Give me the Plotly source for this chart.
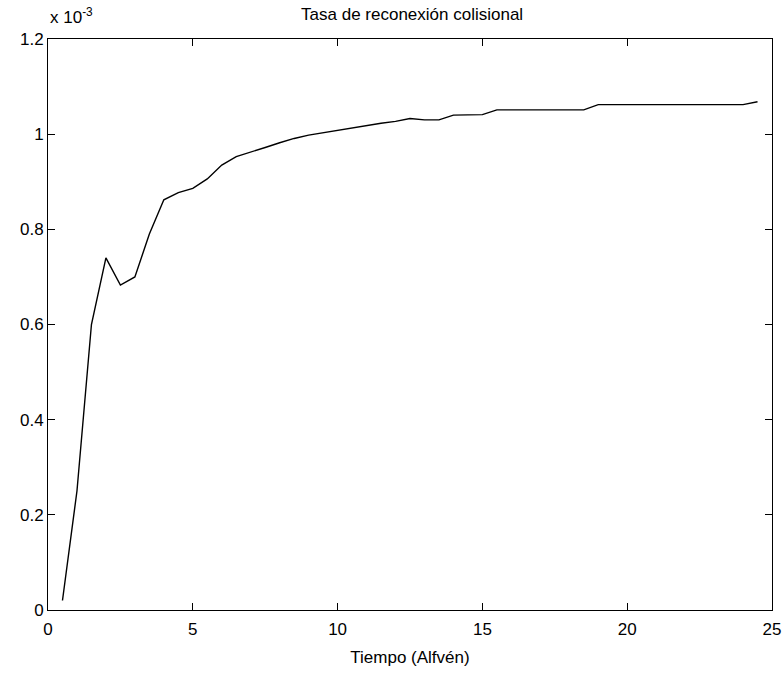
import plotly.graph_objects as go

# Time in Alfvén units and reconnection rate (in units of 1e-3)
tiempo = [0.5, 1.0, 1.5, 2.0, 2.5, 3.0, 3.5, 4.0, 4.5, 5.0,
          5.5, 6.0, 6.5, 7.0, 7.5, 8.0, 8.5, 9.0, 9.5, 10.0,
          10.5, 11.0, 11.5, 12.0, 12.5, 13.0, 13.5, 14.0, 14.5, 15.0,
          15.5, 16.0, 16.5, 17.0, 17.5, 18.0, 18.5, 19.0, 19.5, 20.0,
          20.5, 21.0, 21.5, 22.0, 22.5, 23.0, 23.5, 24.0, 24.5]
tasa = [0.020, 0.250, 0.600, 0.740, 0.683, 0.700, 0.790, 0.862, 0.877, 0.886,
        0.906, 0.935, 0.953, 0.962, 0.972, 0.982, 0.991, 0.998, 1.003, 1.008,
        1.013, 1.019, 1.023, 1.027, 1.033, 1.030, 1.030, 1.040, 1.040, 1.041,
        1.051, 1.051, 1.051, 1.051, 1.051, 1.051, 1.051, 1.062, 1.062, 1.062,
        1.062, 1.062, 1.062, 1.062, 1.062, 1.062, 1.062, 1.062, 1.068]

x_ticks = [0, 5, 10, 15, 20, 25]
y_ticks = [0, 0.2, 0.4, 0.6, 0.8, 1.0, 1.2]
y_ticktext = ["0", "0.2", "0.4", "0.6", "0.8", "1", "1.2"]

FONT = "Liberation Sans, Arial, sans-serif"

fig = go.Figure()
fig.add_trace(go.Scatter(
    x=tiempo, y=tasa, mode="lines",
    line=dict(color="black", width=1.4),
    showlegend=False, hoverinfo="x+y",
))

axis_common = dict(
    showline=True, linecolor="black", linewidth=1, mirror="ticks",
    ticks="inside", ticklen=7, tickwidth=1, tickcolor="black",
    showgrid=False, zeroline=False, automargin=False,
    tickfont=dict(family=FONT, size=17, color="black"),
)

fig.update_layout(
    width=782, height=675,
    margin=dict(l=48, r=10, t=39, b=65),
    paper_bgcolor="white", plot_bgcolor="white",
    title=dict(text="Tasa de reconexión colisional", x=0.527, xanchor="center",
               y=0.988, yanchor="top",
               font=dict(family=FONT, size=17, color="black")),
    xaxis=dict(range=[0, 25], tickvals=x_ticks, ticklabelstandoff=4,
               title=dict(text="Tiempo (Alfvén)", standoff=12,
                          font=dict(family=FONT, size=17, color="black")),
               **axis_common),
    yaxis=dict(range=[0, 1.2], tickvals=y_ticks, ticktext=y_ticktext,
               **axis_common),
    annotations=[dict(
        text="x 10<sup>-3</sup>", xref="paper", yref="paper",
        x=0, y=1, xanchor="left", yanchor="bottom", yshift=10, showarrow=False,
        font=dict(family=FONT, size=17, color="black"),
    )],
)

fig.write_html("out.html")
